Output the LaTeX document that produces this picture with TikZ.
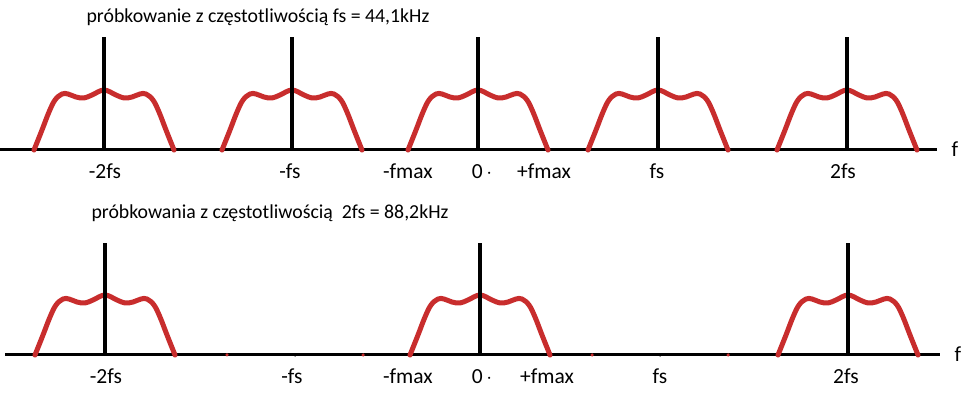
\documentclass[tikz,border=0pt]{standalone}
\usepackage{fontspec}
\setmainfont{Carlito}
\usepackage{xcolor}
\usetikzlibrary{positioning}
\definecolor{specred}{RGB}{200,45,45}

\begin{document}
\begin{tikzpicture}[
    x=1pt, y=1pt,
    spectrum/.style={draw=specred, line width=5pt, line cap=round, line join=round},
    axisline/.style={draw=black, line width=3pt},
    stem/.style={draw=black, line width=3.5pt},
    lbl/.style={font=\fontsize{21.5}{25}\selectfont, inner sep=0pt, anchor=base},
    title/.style={font=\fontsize{19.8}{23}\selectfont, inner sep=0pt, anchor=center},
    remnant/.style={circle, inner sep=0pt, minimum size=3.5pt}
]
    \useasboundingbox (0,0) rectangle (970,396);

    % Top spectrum: fs = 44,1kHz
    \node[title] (T1) at (258,379) {próbkowanie z częstotliwością fs = 44,1kHz};
    \draw[axisline] (0,246) -- (937,246);
    \foreach \c in {104,292,478,658,847} {
        \draw[spectrum, shift={(\c,246)}] plot[smooth, tension=0.6] coordinates {(-70,0) (-62,20) (-55,38) (-49,50) (-42,56) (-36,56) (-28,53) (-20,52) (-12,55) (0,60) (12,55) (20,52) (28,53) (36,56) (42,56) (49,50) (55,38) (62,20) (70,0)};
        \draw[stem] (\c,246) -- (\c,359);
    }
    \node[lbl] (m2fsA) at (105,217) {-2fs};
    \node[lbl] (mfsA) at (290,217) {-fs};
    \node[lbl] (mfmaxA) at (408,217) {-fmax};
    \node[lbl] (zeroA) at (482,217) {0\,$\cdot$};
    \node[lbl] (pfmaxA) at (544,217) {+fmax};
    \node[lbl] (fsA) at (657,217) {fs};
    \node[lbl] (p2fsA) at (843,217) {2fs};
    \node[lbl] (fA) at (955,239) {f};

    % Bottom spectrum: 2fs = 88,2kHz
    \node[title] (T2) at (270,183) {próbkowania z częstotliwością \ 2fs = 88,2kHz};
    \draw[axisline] (5,41) -- (940,41);
    \foreach \c in {105,480,848} {
        \draw[spectrum, shift={(\c,41)}] plot[smooth, tension=0.6] coordinates {(-70,0) (-62,20) (-55,38) (-49,50) (-42,56) (-36,56) (-28,53) (-20,52) (-12,55) (0,60) (12,55) (20,52) (28,53) (36,56) (42,56) (49,50) (55,38) (62,20) (70,0)};
        \draw[stem] (\c,41) -- (\c,153);
    }
    \foreach \x in {227,363,592,728} \node[remnant, fill=specred] at (\x,41) {};
    \foreach \x in {295,660} \node[remnant, fill=black] at (\x,41) {};
    \node[lbl] (m2fsB) at (106,12) {-2fs};
    \node[lbl] (mfsB) at (292,12) {-fs};
    \node[lbl] (mfmaxB) at (408,12) {-fmax};
    \node[lbl] (zeroB) at (482,12) {0\,$\cdot$};
    \node[lbl] (pfmaxB) at (547,12) {+fmax};
    \node[lbl] (fsB) at (660,12) {fs};
    \node[lbl] (p2fsB) at (846,12) {2fs};
    \node[lbl] (fB) at (958,34) {f};
\end{tikzpicture}
\end{document}
